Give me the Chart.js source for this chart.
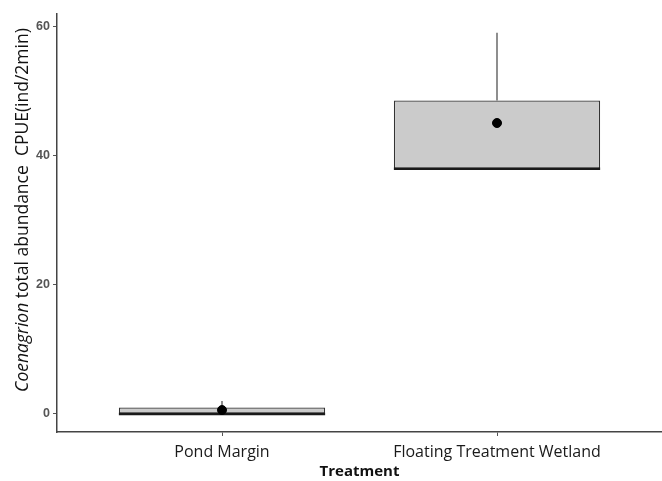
<!DOCTYPE html>
<html>
<head>
<meta charset="utf-8">
<script src="https://cdn.jsdelivr.net/npm/chart.js@4"></script>
<style>
    html, body { margin: 0; padding: 0; background: #fff; }
    #wrap { width: 662px; height: 481px; }
</style>
</head>
<body>
<div id="wrap"><canvas id="canvasCoenagrion"></canvas></div>
<script>
const CATEGORIAS = ['Pond Margin', 'Floating Treatment Wetland'];
const POSICIONES = [1, 2];
const BIGOTE_INF = [0, 38];
const CUARTIL_1 = [0, 38];
const MEDIANA = [0, 38];
const CUARTIL_3 = [1, 48.6];
const BIGOTE_SUP = [2, 59.1];
const MEDIAS = [0.6, 45.1];
const TICKS_Y = [0, 20, 40, 60];

const TITULO_Y_CURSIVA = 'Coenagrion';
const TITULO_Y_RESTO = ' total abundance  CPUE(ind/2min)';

// bigotes y mediana encima de las cajas
const pluginBoxplot = {
    id: 'boxplotExtras',
    afterDatasetDraw(chart, args) {
        if (args.index !== 0) return;
        const { ctx, scales: { x, y } } = chart;
        const meta = chart.getDatasetMeta(0);
        ctx.save();
        meta.data.forEach((barra, i) => {
            const cx = x.getPixelForValue(POSICIONES[i]);
            const mitad = barra.width / 2;

            ctx.strokeStyle = '#444';
            ctx.lineWidth = 1.2;
            ctx.beginPath();
            ctx.moveTo(cx, y.getPixelForValue(CUARTIL_3[i]));
            ctx.lineTo(cx, y.getPixelForValue(BIGOTE_SUP[i]));
            ctx.moveTo(cx, y.getPixelForValue(CUARTIL_1[i]));
            ctx.lineTo(cx, y.getPixelForValue(BIGOTE_INF[i]));
            ctx.stroke();

            ctx.strokeStyle = '#1a1a1a';
            ctx.lineWidth = 2.6;
            const my = y.getPixelForValue(MEDIANA[i]);
            ctx.beginPath();
            ctx.moveTo(cx - mitad, my);
            ctx.lineTo(cx + mitad, my);
            ctx.stroke();
        });
        ctx.restore();
    }
};

// titulo del eje y con parte en cursiva
const pluginTituloY = {
    id: 'tituloY',
    afterDraw(chart) {
        const { ctx } = chart;
        const fuenteCursiva = 'italic 17.5px "Open Sans"';
        const fuenteNormal = '17.5px "Open Sans"';
        ctx.save();
        ctx.font = fuenteCursiva;
        const w1 = ctx.measureText(TITULO_Y_CURSIVA).width;
        ctx.font = fuenteNormal;
        const w2 = ctx.measureText(TITULO_Y_RESTO).width;
        const total = w1 + w2;
        ctx.translate(23, 210);
        ctx.rotate(-Math.PI / 2);
        ctx.fillStyle = '#111';
        ctx.textBaseline = 'middle';
        ctx.textAlign = 'left';
        ctx.font = fuenteCursiva;
        ctx.fillText(TITULO_Y_CURSIVA, -total / 2, 0);
        ctx.font = fuenteNormal;
        ctx.fillText(TITULO_Y_RESTO, -total / 2 + w1, 0);
        ctx.restore();
    }
};

const ctx = document.getElementById('canvasCoenagrion');
new Chart(ctx, {
    data: {
        datasets: [
            {
                type: 'bar',
                order: 1,
                data: POSICIONES.map((p, i) => ({ x: p, y: [CUARTIL_1[i], CUARTIL_3[i]] })),
                backgroundColor: '#cbcbcb',
                borderColor: '#333',
                borderWidth: 1.3,
                borderSkipped: false,
                categoryPercentage: 1,
                barPercentage: 0.75
            },
            {
                type: 'scatter',
                order: 0,
                data: POSICIONES.map((p, i) => ({ x: p, y: MEDIAS[i] })),
                backgroundColor: '#000',
                borderColor: '#000',
                pointRadius: 4.5,
                pointHoverRadius: 4.5
            }
        ]
    },
    options: {
        responsive: true,
        maintainAspectRatio: false,
        animation: false,
        layout: { autoPadding: false, padding: { top: 14, right: 0, left: 0, bottom: 0 } },
        plugins: { legend: { display: false }, tooltip: { enabled: false } },
        scales: {
            x: {
                type: 'linear',
                min: 0.4,
                max: 2.6,
                offset: false,
                afterBuildTicks: s => { s.ticks = POSICIONES.map(v => ({ value: v })); },
                afterFit: s => { s.height = 49; },
                ticks: {
                    callback: v => CATEGORIAS[POSICIONES.indexOf(v)] ?? '',
                    color: '#1a1a1a',
                    font: { family: 'Open Sans', size: 16 },
                    padding: 7,
                    maxRotation: 0,
                    autoSkip: false
                },
                grid: { drawOnChartArea: false, offset: false, color: '#555', tickLength: 4, tickWidth: 1 },
                border: { color: '#444', width: 1.5 },
                title: {
                    display: true,
                    text: 'Treatment',
                    color: '#111',
                    font: { family: 'Open Sans', size: 15, weight: 'bold' },
                    padding: { top: 0, bottom: 0 }
                }
            },
            y: {
                type: 'linear',
                min: -2.8,
                max: 62,
                afterBuildTicks: s => { s.ticks = TICKS_Y.map(v => ({ value: v })); },
                afterFit: s => { s.width = 57; },
                ticks: {
                    color: '#555',
                    font: { family: 'Liberation Sans', size: 12.5, weight: 'bold' },
                    padding: 3
                },
                grid: { drawOnChartArea: false, color: '#555', tickLength: 4, tickWidth: 1 },
                border: { color: '#444', width: 1.5 }
            }
        }
    },
    plugins: [pluginBoxplot, pluginTituloY]
});
</script>
</body>
</html>
